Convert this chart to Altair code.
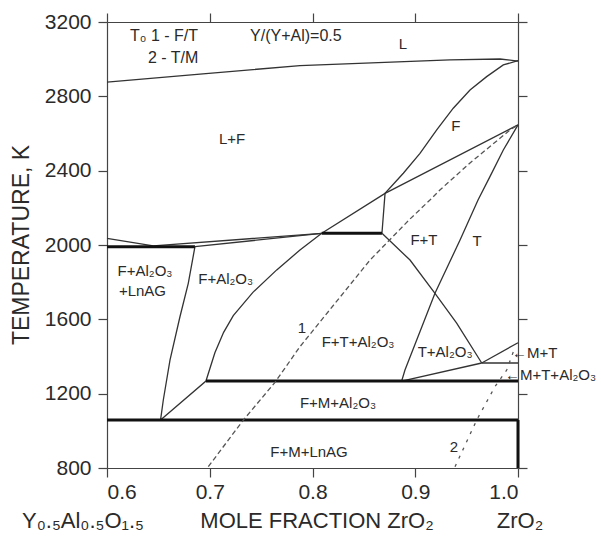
import altair as alt
import pandas as pd

# ---------------- data (mole fraction ZrO2, temperature K) ----------------
# thin solid phase boundaries
liq_x = [0.6, 0.6905, 0.7878, 0.9338, 0.9825, 1.0]
liq_T = [2877, 2920, 2965, 2996, 3001, 2990]

fss_x = [1.0, 0.9857, 0.9695, 0.9533, 0.9370, 0.9209, 0.9046, 0.8884, 0.8706, 0.8676]
fss_T = [2992, 2969, 2906, 2834, 2736, 2619, 2493, 2386, 2278, 2063]

d_x = [1.0, 0.8706, 0.8090, 0.7878, 0.7652, 0.7420, 0.7229, 0.7135, 0.7050, 0.6963, 0.6521]
d_T = [2646, 2278, 2063, 1973, 1866, 1745, 1620, 1530, 1420, 1268, 1058]

lefta_x = [0.6, 0.6451, 0.8090]
lefta_T = [2036, 1995, 2063]

leftb_x = [0.6856, 0.8090]
leftb_T = [1991, 2063]

lnag_x = [0.6856, 0.6791, 0.6710, 0.6613, 0.6548, 0.6521]
lnag_T = [1991, 1794, 1614, 1381, 1166, 1058]

ft_x = [0.8676, 0.8949, 0.9192, 0.9403, 0.9647]
ft_T = [2063, 1919, 1740, 1579, 1365]

t_x = [1.0, 0.9857, 0.9727, 0.9611, 0.9436, 0.9192, 0.8900, 0.8868]
t_T = [2646, 2511, 2368, 2242, 2027, 1740, 1327, 1268]

ta_x = [0.8868, 0.9647]
ta_T = [1268, 1365]

mt1_x = [0.9647, 1.0]
mt1_T = [1365, 1365]

mt2_x = [0.9647, 1.0]
mt2_T = [1365, 1474]

# thick invariant lines
thick_lines = {
    "e1": ([0.6, 0.6856], [1991, 1991]),
    "e2": ([0.8090, 0.8676], [2063, 2063]),
    "e3": ([0.6963, 1.0], [1268, 1268]),
    "e4": ([0.6, 1.0], [1058, 1058]),
    "e5": ([1.0, 1.0], [800, 1058]),
}

# T0 curves
t0a_x = [0.6986, 0.7327, 0.7635, 0.7878, 0.8560, 0.8949, 0.9143, 0.9240, 0.9530, 0.9922, 1.0]
t0a_T = [807, 1058, 1261, 1453, 1919, 2140, 2242, 2296, 2440, 2619, 2646]

t0b_x = [0.9387, 0.9598, 0.9776, 0.9890, 0.9955]
t0b_T = [807, 1058, 1238, 1327, 1426]

# region labels
lab_c_text = ["L", "L+F", "F", "F+T", "T", "F+Al₂O₃", "+LnAG", "F+Al₂O₃", "1",
              "F+T+Al₂O₃", "T+Al₂O₃", "F+M+Al₂O₃", "F+M+LnAG", "2"]
lab_c_x = [0.888, 0.7217, 0.9394, 0.9085, 0.9601, 0.637, 0.6345, 0.7155, 0.7898,
           0.8443, 0.929, 0.8248, 0.7966, 0.9377]
lab_c_T = [3082, 2570, 2642, 2027, 2022, 1858, 1752, 1817, 1553,
           1478, 1424, 1150, 886, 913]

lab_l_text = ["T₀ 1 - F/T", "2 - T/M", "Y/(Y+Al)=0.5"]
lab_l_x = [0.6224, 0.6399, 0.7392]
lab_l_T = [3125, 3006, 3125]

arr_text = ["←M+T", "←M+T+Al₂O₃"]
arr_x = [0.9942, 0.9873]
arr_T = [1419, 1300]

bot_text = ["Y₀.₅Al₀.₅O₁.₅", "MOLE FRACTION ZrO₂", "ZrO₂"]
bot_x = [0.5766, 0.8044, 1.0019]
bot_T = [515, 515, 515]

ytitle_text = ["TEMPERATURE, K"]
ytitle_x = [0.5173]
ytitle_T = [2000]

x_ticks = [0.6, 0.7, 0.8, 0.9, 1.0]
y_ticks = [800, 1200, 1600, 2000, 2400, 2800, 3200]

# ---------------- build tables ----------------
def table(series):
    rows = []
    for name, (xs, ts) in series.items():
        for i, (a, b) in enumerate(zip(xs, ts)):
            rows.append({"id": name, "o": i, "x": a, "T": b})
    return pd.DataFrame(rows)

thin_df = table({
    "liq": (liq_x, liq_T), "fss": (fss_x, fss_T), "d": (d_x, d_T),
    "la": (lefta_x, lefta_T), "lb": (leftb_x, leftb_T), "lnag": (lnag_x, lnag_T),
    "ft": (ft_x, ft_T), "t": (t_x, t_T), "ta": (ta_x, ta_T),
    "mt1": (mt1_x, mt1_T), "mt2": (mt2_x, mt2_T),
})
thick_df = table(thick_lines)
t0a_df = table({"a": (t0a_x, t0a_T)})
t0b_df = table({"b": (t0b_x, t0b_T)})

FONT = "Liberation Sans"
INK = "#2a2a2a"

xs = alt.Scale(domain=[0.6, 1.0], nice=False, zero=False)
ys = alt.Scale(domain=[800, 3200], nice=False, zero=False)

x_main = alt.X("x:Q", scale=xs, axis=alt.Axis(values=x_ticks, format=".1f", title=None,
                                              orient="bottom", labelPadding=4))
y_main = alt.Y("T:Q", scale=ys, axis=alt.Axis(values=y_ticks, format="d", title=None,
                                              orient="left", labelPadding=7))
x_top = alt.X("x:Q", scale=xs, axis=alt.Axis(values=x_ticks, labels=False, title=None, orient="top"))
y_right = alt.Y("T:Q", scale=ys, axis=alt.Axis(values=y_ticks, labels=False, title=None, orient="right"))

thin = alt.Chart(thin_df).mark_line(color="#333333", strokeWidth=1.3).encode(
    x=x_main, y=y_main, detail="id:N", order="o:Q")

thick = alt.Chart(thick_df).mark_line(color="#111111", strokeWidth=3).encode(
    x=x_top, y=y_right, detail="id:N", order="o:Q")

t0a = alt.Chart(t0a_df).mark_line(color="#555555", strokeWidth=1.3, strokeDash=[5, 3]).encode(
    x=alt.X("x:Q", scale=xs, axis=None), y=alt.Y("T:Q", scale=ys, axis=None), order="o:Q")

t0b = alt.Chart(t0b_df).mark_line(color="#555555", strokeWidth=1.3, strokeDash=[3, 6]).encode(
    x=alt.X("x:Q", scale=xs, axis=None), y=alt.Y("T:Q", scale=ys, axis=None), order="o:Q")

def texts(t, xv, tv, size, align="center", angle=0):
    df = pd.DataFrame({"text": t, "x": xv, "T": tv})
    mk = dict(font=FONT, fontSize=size, color=INK, align=align, baseline="middle")
    if angle:
        mk["angle"] = angle
    return alt.Chart(df).mark_text(**mk).encode(
        x=alt.X("x:Q", scale=xs, axis=None), y=alt.Y("T:Q", scale=ys, axis=None), text="text:N")

labels = [
    texts(lab_c_text, lab_c_x, lab_c_T, 15),
    texts(lab_l_text, lab_l_x, lab_l_T, 16, align="left"),
    texts(arr_text, arr_x, arr_T, 15, align="left"),
    texts(bot_text, bot_x, bot_T, 22),
    texts(ytitle_text, ytitle_x, ytitle_T, 23, angle=270),
]

chart = alt.layer(thin, thick, t0a, t0b, *labels).resolve_axis(
    x="independent", y="independent"
).properties(
    width=411, height=446, autosize="none",
    padding={"left": 107, "top": 22, "right": 83, "bottom": 71},
    background="white",
).configure_view(stroke=None).configure_axis(
    grid=False, domainColor="#444444", tickColor="#444444", domainWidth=1.2, tickWidth=1.2,
    tickSize=9, labelFont=FONT, labelFontSize=21, labelColor=INK,
)

chart.save("out.html", embed_options={"renderer": "svg", "actions": False})
